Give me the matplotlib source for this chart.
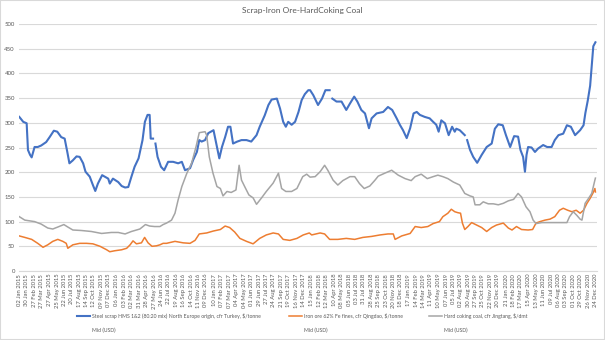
import matplotlib
matplotlib.use("Agg")
import matplotlib.pyplot as plt
from matplotlib.patches import Rectangle
from matplotlib.lines import Line2D
import numpy as np
import pandas as pd

plt.rcParams['font.family'] = ['Lato', 'DejaVu Sans']

title = "Scrap-Iron Ore-HardCoking Coal"
series_names = [
    "Steel scrap HMS 1&2 (80:20 mix) North Europe origin, cfr Turkey, $/tonne",
    "Iron ore 62% Fe fines, cfr Qingdao, $/tonne",
    "Hard coking coal, cfr Jingtang, $/dmt",
]
sub_label = "Mid (USD)"
colors = ["#4472C4", "#ED7D31", "#A5A5A5"]

tick_labels = [
    "02 Jan 2015", "30 Jan 2015", "27 Feb 2015", "27 Mar 2015", "27 Apr 2015", "25 May 2015",
    "22 Jun 2015", "20 Jul 2015", "17 Aug 2015", "14 Sep 2015", "12 Oct 2015", "09 Nov 2015",
    "07 Dec 2015", "06 Jan 2016", "03 Feb 2016", "02 Mar 2016", "31 Mar 2016", "28 Apr 2016",
    "27 May 2016", "24 Jun 2016", "22 Jul 2016", "19 Aug 2016", "16 Sep 2016", "14 Oct 2016",
    "11 Nov 2016", "09 Dec 2016", "10 Jan 2017", "07 Feb 2017", "07 Mar 2017", "04 Apr 2017",
    "04 May 2017", "01 Jun 2017", "29 Jun 2017", "27 Jul 2017", "24 Aug 2017", "21 Sep 2017",
    "19 Oct 2017", "16 Nov 2017", "14 Dec 2017", "15 Jan 2018", "12 Feb 2018", "12 Mar 2018",
    "10 Apr 2018", "08 May 2018", "05 Jun 2018", "03 Jul 2018", "31 Jul 2018", "28 Aug 2018",
    "25 Sep 2018", "23 Oct 2018", "20 Nov 2018", "18 Dec 2018", "17 Jan 2019", "14 Feb 2019",
    "14 Mar 2019", "11 Apr 2019", "10 May 2019", "07 Jun 2019", "05 Jul 2019", "02 Aug 2019",
    "30 Aug 2019", "27 Sep 2019", "25 Oct 2019", "22 Nov 2019", "20 Dec 2019", "21 Jan 2020",
    "18 Feb 2020", "17 Mar 2020", "15 Apr 2020", "13 May 2020", "11 Jun 2020", "09 Jul 2020",
    "06 Aug 2020", "03 Sep 2020", "01 Oct 2020", "29 Oct 2020", "26 Nov 2020", "24 Dec 2020",
]

# steel scrap, $/t (nan = gap in the data)
scrap = [
    ("2015-01-02", 312), ("2015-01-17", 302), ("2015-01-30", 299), ("2015-02-04", 245),
    ("2015-02-12", 235), ("2015-02-18", 230), ("2015-03-01", 251), ("2015-03-13", 251),
    ("2015-03-26", 254), ("2015-04-14", 261), ("2015-04-27", 271), ("2015-05-13", 284),
    ("2015-05-26", 282), ("2015-06-10", 271), ("2015-06-23", 268), ("2015-07-03", 241),
    ("2015-07-11", 218), ("2015-07-24", 224), ("2015-08-07", 232), ("2015-08-19", 231),
    ("2015-09-01", 218), ("2015-09-10", 201), ("2015-09-26", 191), ("2015-10-08", 174),
    ("2015-10-17", 162), ("2015-10-27", 177), ("2015-11-12", 194), ("2015-12-05", 187),
    ("2015-12-11", 177), ("2015-12-23", 187), ("2016-01-12", 180), ("2016-01-25", 172),
    ("2016-02-07", 169), ("2016-02-19", 170), ("2016-03-02", 191), ("2016-03-14", 211),
    ("2016-03-29", 228), ("2016-04-13", 265), ("2016-04-22", 302), ("2016-05-02", 316),
    ("2016-05-10", 316), ("2016-05-14", 268), ("2016-05-23", 268), ("2016-05-27", np.nan),
    ("2016-06-01", 258), ("2016-06-09", 231), ("2016-06-22", 211), ("2016-07-04", 204),
    ("2016-07-19", 221), ("2016-08-07", 221), ("2016-08-26", 218), ("2016-09-09", 221),
    ("2016-09-21", 204), ("2016-10-10", 208), ("2016-10-22", 225), ("2016-11-05", 241),
    ("2016-11-14", 265), ("2016-11-23", 262), ("2016-12-06", 265), ("2016-12-18", 279),
    ("2017-01-07", 285), ("2017-01-20", 251), ("2017-01-29", 228), ("2017-02-08", 251),
    ("2017-02-20", 271), ("2017-03-03", 292), ("2017-03-12", 292), ("2017-03-22", 258),
    ("2017-04-07", 262), ("2017-04-23", 265), ("2017-05-12", 265), ("2017-05-30", 262),
    ("2017-06-19", 275), ("2017-07-01", 292), ("2017-07-20", 315), ("2017-08-03", 336),
    ("2017-08-15", 347), ("2017-09-04", 349), ("2017-09-16", 329), ("2017-09-28", 302),
    ("2017-10-08", 292), ("2017-10-17", 302), ("2017-10-30", 296), ("2017-11-12", 302),
    ("2017-11-25", 322), ("2017-12-07", 346), ("2017-12-19", 358), ("2018-01-01", 366),
    ("2018-01-08", 366), ("2018-01-20", 356), ("2018-02-07", 336), ("2018-02-22", 349),
    ("2018-03-07", 366), ("2018-03-23", 366), ("2018-03-28", np.nan), ("2018-04-02", 349),
    ("2018-04-18", 343), ("2018-05-07", 343), ("2018-05-25", 326), ("2018-06-08", 339),
    ("2018-06-24", 353), ("2018-07-06", 343), ("2018-07-21", 326), ("2018-08-04", 319),
    ("2018-08-19", 289), ("2018-08-29", 309), ("2018-09-17", 319), ("2018-10-12", 322),
    ("2018-10-30", 332), ("2018-11-15", 326), ("2018-12-02", 309), ("2018-12-14", 296),
    ("2018-12-26", 285), ("2019-01-09", 269), ("2019-01-22", 289), ("2019-02-04", 319),
    ("2019-02-16", 322), ("2019-02-28", 316), ("2019-03-18", 312), ("2019-04-06", 309),
    ("2019-04-19", 302), ("2019-05-01", 296), ("2019-05-10", 282), ("2019-05-20", 305),
    ("2019-06-03", 299), ("2019-06-17", 275), ("2019-06-30", 292), ("2019-07-10", 282),
    ("2019-07-16", 288), ("2019-07-29", 285), ("2019-08-17", 275), ("2019-08-21", np.nan),
    ("2019-08-26", 265), ("2019-09-06", 245), ("2019-09-18", 231), ("2019-10-03", 219),
    ("2019-10-20", 235), ("2019-11-08", 251), ("2019-11-27", 258), ("2019-12-09", 288),
    ("2019-12-22", 297), ("2020-01-08", 295), ("2020-01-20", 275), ("2020-02-05", 251),
    ("2020-02-20", 273), ("2020-03-06", 272), ("2020-03-15", 245), ("2020-03-25", 231),
    ("2020-04-01", 201), ("2020-04-07", 235), ("2020-04-13", 251), ("2020-04-26", 250),
    ("2020-05-09", 241), ("2020-05-21", 248), ("2020-06-09", 255), ("2020-06-24", 251),
    ("2020-07-11", 251), ("2020-07-23", 265), ("2020-08-06", 275), ("2020-08-24", 278),
    ("2020-09-07", 295), ("2020-09-22", 292), ("2020-10-08", 275), ("2020-10-27", 285),
    ("2020-11-09", 295), ("2020-11-16", 320), ("2020-11-25", 345), ("2020-12-04", 375),
    ("2020-12-10", 415), ("2020-12-16", 455), ("2020-12-24", 463),
]

# iron ore 62% Fe, $/t
ore = [
    ("2015-01-02", 71), ("2015-01-23", 68), ("2015-02-18", 64), ("2015-03-13", 56),
    ("2015-04-02", 48), ("2015-04-20", 53), ("2015-05-09", 60), ("2015-05-28", 64),
    ("2015-06-16", 60), ("2015-06-29", 56), ("2015-07-05", 46), ("2015-07-24", 53),
    ("2015-08-19", 56), ("2015-09-14", 56), ("2015-10-08", 55), ("2015-11-04", 50),
    ("2015-11-29", 43), ("2015-12-11", 39), ("2015-12-30", 41), ("2016-01-25", 43),
    ("2016-02-13", 46), ("2016-02-26", 53), ("2016-03-08", 61), ("2016-03-21", 55),
    ("2016-04-09", 57), ("2016-04-21", 68), ("2016-05-04", 57), ("2016-05-19", 50),
    ("2016-06-05", 51), ("2016-06-18", 53), ("2016-06-30", 56), ("2016-07-13", 56),
    ("2016-08-14", 60), ("2016-09-14", 57), ("2016-10-10", 56), ("2016-10-29", 62),
    ("2016-11-14", 75), ("2016-12-12", 77), ("2017-01-07", 81), ("2017-02-02", 84),
    ("2017-02-20", 91), ("2017-03-09", 88), ("2017-03-28", 79), ("2017-04-17", 66),
    ("2017-05-12", 60), ("2017-06-06", 55), ("2017-07-01", 66), ("2017-07-26", 73),
    ("2017-08-21", 77), ("2017-09-10", 75), ("2017-09-28", 64), ("2017-10-23", 62),
    ("2017-11-19", 66), ("2017-12-13", 73), ("2018-01-05", 77), ("2018-01-14", 73),
    ("2018-02-15", 77), ("2018-03-04", 75), ("2018-03-23", 64), ("2018-04-23", 64),
    ("2018-05-25", 66), ("2018-06-26", 64), ("2018-07-27", 68), ("2018-08-29", 70),
    ("2018-09-30", 73), ("2018-10-30", 75), ("2018-11-19", 75), ("2018-11-26", 64),
    ("2018-12-21", 71), ("2019-01-22", 76), ("2019-02-10", 90), ("2019-03-05", 88),
    ("2019-03-30", 90), ("2019-04-19", 96), ("2019-05-13", 100), ("2019-05-26", 110),
    ("2019-06-14", 117), ("2019-06-27", 125), ("2019-07-10", 120), ("2019-07-22", 118),
    ("2019-08-01", 117), ("2019-08-08", 97), ("2019-08-17", 84), ("2019-08-29", 90),
    ("2019-09-12", 98), ("2019-10-01", 93), ("2019-10-20", 88), ("2019-11-08", 80),
    ("2019-11-27", 88), ("2019-12-15", 93), ("2020-01-10", 97), ("2020-01-29", 87),
    ("2020-02-12", 83), ("2020-02-29", 90), ("2020-03-19", 84), ("2020-04-13", 83),
    ("2020-04-30", 84), ("2020-05-13", 97), ("2020-05-28", 100), ("2020-06-16", 103),
    ("2020-07-05", 105), ("2020-07-23", 110), ("2020-08-10", 123), ("2020-08-24", 127),
    ("2020-09-10", 123), ("2020-09-26", 120), ("2020-10-12", 123), ("2020-10-27", 117),
    ("2020-11-09", 123), ("2020-11-22", 137), ("2020-12-04", 147), ("2020-12-14", 157),
    ("2020-12-22", 167), ("2020-12-24", 160),
]

# hard coking coal, $/dmt
coal = [
    ("2015-01-02", 110), ("2015-01-23", 103), ("2015-03-01", 100), ("2015-03-26", 95),
    ("2015-04-20", 87), ("2015-05-09", 85), ("2015-05-28", 89), ("2015-06-20", 94),
    ("2015-07-05", 89), ("2015-07-24", 83), ("2015-08-25", 82), ("2015-10-02", 80),
    ("2015-11-10", 76), ("2015-12-17", 78), ("2016-01-12", 78), ("2016-02-07", 75),
    ("2016-03-02", 80), ("2016-04-03", 85), ("2016-04-24", 94), ("2016-05-10", 91),
    ("2016-05-29", 90), ("2016-06-18", 90), ("2016-06-30", 94), ("2016-07-13", 97),
    ("2016-08-01", 103), ("2016-08-14", 117), ("2016-08-26", 144), ("2016-09-09", 171),
    ("2016-09-28", 198), ("2016-10-16", 218), ("2016-11-02", 252), ("2016-11-14", 280),
    ("2016-12-06", 282), ("2016-12-12", 275), ("2016-12-22", 231), ("2017-01-05", 198),
    ("2017-01-20", 171), ("2017-02-02", 167), ("2017-02-12", 152), ("2017-02-27", 161),
    ("2017-03-15", 159), ("2017-04-02", 164), ("2017-04-14", 214), ("2017-04-23", 184),
    ("2017-05-05", 171), ("2017-05-21", 154), ("2017-06-06", 148), ("2017-06-19", 135),
    ("2017-07-08", 148), ("2017-07-26", 161), ("2017-08-21", 178), ("2017-09-10", 198),
    ("2017-09-22", 167), ("2017-10-08", 161), ("2017-10-30", 161), ("2017-11-19", 167),
    ("2017-12-11", 191), ("2017-12-26", 196), ("2018-01-08", 190), ("2018-01-27", 191),
    ("2018-02-15", 201), ("2018-03-04", 214), ("2018-03-16", 204), ("2018-04-05", 184),
    ("2018-04-23", 174), ("2018-05-12", 183), ("2018-06-08", 191), ("2018-06-26", 191),
    ("2018-07-14", 177), ("2018-08-01", 167), ("2018-08-22", 172), ("2018-09-11", 184),
    ("2018-09-23", 192), ("2018-10-18", 198), ("2018-11-13", 204), ("2018-12-08", 194),
    ("2019-01-03", 187), ("2019-01-26", 183), ("2019-02-10", 191), ("2019-03-05", 196),
    ("2019-03-28", 187), ("2019-04-19", 191), ("2019-05-07", 194), ("2019-05-26", 191),
    ("2019-06-14", 187), ("2019-07-05", 180), ("2019-07-29", 174), ("2019-08-17", 157),
    ("2019-09-06", 152), ("2019-09-18", 150), ("2019-09-25", 134), ("2019-10-13", 134),
    ("2019-10-26", 140), ("2019-11-14", 136), ("2019-12-03", 136), ("2019-12-22", 134),
    ("2020-01-10", 137), ("2020-01-29", 142), ("2020-02-18", 145), ("2020-03-06", 157),
    ("2020-03-19", 150), ("2020-04-05", 130), ("2020-04-20", 120), ("2020-05-02", 103),
    ("2020-05-13", 96), ("2020-06-04", 98), ("2020-07-05", 98), ("2020-08-06", 98),
    ("2020-09-07", 98), ("2020-09-17", 110), ("2020-10-01", 120), ("2020-10-14", 113),
    ("2020-10-27", 105), ("2020-11-03", 103), ("2020-11-15", 137), ("2020-11-28", 147),
    ("2020-12-10", 157), ("2020-12-22", 184), ("2020-12-24", 188),
]

W, H = 605, 340
fig = plt.figure(figsize=(W / 100, H / 100), dpi=100)
ax = fig.add_axes([19 / W, 1 - 271 / H, 578 / W, 247 / H])

widths = [1.5, 1.1, 1.1]
for data, name, c, lw in zip([scrap, ore, coal], series_names, colors, widths):
    d = pd.to_datetime([p[0] for p in data])
    v = np.array([p[1] for p in data], dtype=float)
    ax.plot(d, v, color=c, lw=lw, label=name, solid_joinstyle='round')

tick_dates = pd.to_datetime(tick_labels, format="%d %b %Y")
ax.set_xticks(tick_dates)
ax.set_xticklabels(tick_labels, rotation=90, fontsize=4.2, color="#595959")
ax.set_xlim(tick_dates[0] - pd.Timedelta(days=1), tick_dates[-1] + pd.Timedelta(days=6))

ax.set_ylim(0, 500)
ax.set_yticks(range(0, 501, 50))
ax.tick_params(axis='y', labelsize=4.3, colors="#595959", length=0, pad=3)
ax.tick_params(axis='x', length=0, pad=2)
ax.grid(axis='y', color="#D9D9D9", lw=0.8)
ax.set_axisbelow(True)
for s in ["top", "right", "left"]:
    ax.spines[s].set_visible(False)
ax.spines["bottom"].set_color("#D9D9D9")
ax.spines["bottom"].set_linewidth(0.8)

fig.text(0.5, 1 - 11 / H, title, ha='center', va='center', fontsize=6.0, color="#595959")

# legend drawn by hand: sample line, series name, and "Mid (USD)" beneath
legend_x = [77, 289, 429]
for x0, name, c, lw in zip(legend_x, series_names, colors, widths):
    fig.add_artist(Line2D([x0 / W, (x0 + 13) / W], [1 - 316 / H] * 2,
                          transform=fig.transFigure, color=c, lw=lw))
    fig.text((x0 + 15) / W, 1 - 316 / H, name, ha='left', va='center',
             fontsize=3.7, color="#595959")
    fig.text((x0 + 15) / W, 1 - 330 / H, sub_label, ha='left', va='center',
             fontsize=3.7, color="#595959")

fig.patches.append(Rectangle((0, 0), 1, 1, transform=fig.transFigure, fill=False,
                             edgecolor="#D9D9D9", lw=1.5))

fig.savefig("out.png", dpi=100)
